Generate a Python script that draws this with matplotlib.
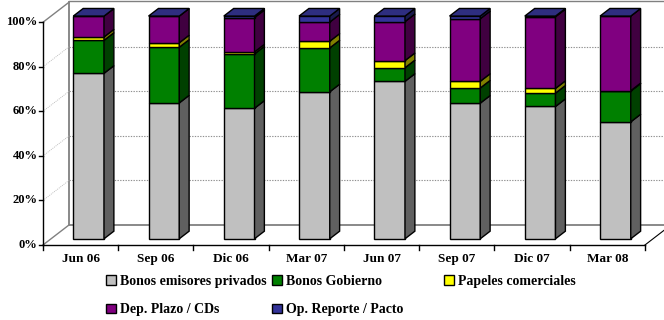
import numpy as np
import matplotlib
matplotlib.use('Agg')
import matplotlib.pyplot as plt
from matplotlib.patches import Polygon, Patch

plt.rcParams['font.family'] = ['Liberation Serif', 'DejaVu Serif']
plt.rcParams['font.weight'] = 'bold'

periods = ['Jun 06', 'Sep 06', 'Dic 06', 'Mar 07', 'Jun 07', 'Sep 07', 'Dic 07', 'Mar 08']

# portfolio share by instrument, % of total
bonos_privados = [74.3, 61.0, 58.6, 66.0, 70.7, 60.9, 59.4, 52.5]
bonos_gobierno = [14.8, 25.0, 24.4, 19.7, 6.1, 6.8, 6.0, 13.8]
papeles_comerciales = [1.5, 2.0, 0.9, 3.0, 3.2, 3.0, 2.1, 0.2]
dep_plazo = [9.4, 12.0, 15.4, 8.6, 17.5, 28.1, 32.2, 33.5]
op_reporte = [0.0, 0.0, 0.7, 2.7, 2.5, 1.2, 0.3, 0.0]

series = [
    ('Bonos emisores privados', bonos_privados, '#C0C0C0', '#606060'),
    ('Bonos Gobierno', bonos_gobierno, '#008000', '#004000'),
    ('Papeles comerciales', papeles_comerciales, '#FFFF00', '#808000'),
    ('Dep. Plazo / CDs', dep_plazo, '#800080', '#400040'),
    ('Op. Reporte / Pacto', op_reporte, '#333399', '#1A1A4D'),
]
top_color = '#2E2E80'
yticks = [0, 20, 40, 60, 80, 100]

# depth of the 3D box in data units
DX, DY = 0.3455, 8.98
f0, f1 = 0.31, 0.69
bar_w = 0.408
n = len(periods)

fig = plt.figure(figsize=(6.64, 3.2), dpi=100)
ax = fig.add_axes([0, 0, 1, 1])
ax.set_xlim(-0.571, 8.253)
ax.set_ylim(-33.68, 110.0)
ax.axis('off')

wall = '#808080'
# back wall and left wall outline
ax.plot([DX, DX, n + DX + 1], [DY + 100, DY, DY], color=wall, lw=1.3, zorder=1)
ax.plot([DX, n + DX + 1], [DY + 100.5, DY + 100.5], color=wall, lw=1.0, zorder=1)
ax.plot([0, DX], [100, 100 + DY], color=wall, lw=1.0, zorder=1)
ax.plot([0, DX], [0, DY], color=wall, lw=1.0, zorder=1)
for v in yticks[1:-1]:
    ax.plot([DX, n + DX + 1], [v + DY, v + DY], color='#909090', lw=0.8,
            ls=(0, (1.2, 1.2)), zorder=1)
    ax.plot([0, DX], [v, v + DY], color='#B8B8B8', lw=0.6,
            ls=(0, (1.2, 1.2)), zorder=1)

# front axes
ax.plot([0, 0], [0, 100], color='black', lw=1.0, zorder=2)
ax.plot([0, n], [0, 0], color='black', lw=1.0, zorder=2)
ax.plot([n, n + DX * 0.75], [0, DY * 0.75], color='black', lw=0.8, zorder=2)
for v in yticks:
    ax.plot([-0.05, 0], [v, v], color='black', lw=1.0, zorder=2)
    ax.text(-0.07, v, '{}%'.format(v), ha='right', va='center', fontsize=9)
for i in range(n + 1):
    ax.plot([i, i], [0, -2.2], color='black', lw=1.0, zorder=2)
for i, p in enumerate(periods):
    ax.text(i + 0.5, -3.6, p, ha='center', va='top', fontsize=9.5)

# stacked 3D bars
x = np.arange(n) + 0.5 + f0 * DX
dd = f1 - f0
bottom = np.zeros(n)
for name, vals, front, side in series:
    vals = np.array(vals)
    ax.bar(x, vals, width=bar_w, bottom=bottom + f0 * DY, color=front,
           edgecolor='black', linewidth=1.0, zorder=3)
    for i in range(n):
        xr = x[i] + bar_w / 2
        y0 = bottom[i] + f0 * DY
        y1 = y0 + vals[i]
        ax.add_patch(Polygon([(xr, y0), (xr + dd * DX, y0 + dd * DY),
                              (xr + dd * DX, y1 + dd * DY), (xr, y1)],
                             closed=True, facecolor=side, edgecolor='black',
                             linewidth=1.0, zorder=3))
    bottom = bottom + vals

for i in range(n):
    xl = x[i] - bar_w / 2
    xr = x[i] + bar_w / 2
    yt = bottom[i] + f0 * DY
    ax.add_patch(Polygon([(xl, yt), (xr, yt), (xr + dd * DX, yt + dd * DY),
                          (xl + dd * DX, yt + dd * DY)], closed=True,
                         facecolor=top_color, edgecolor='black',
                         linewidth=1.0, zorder=3))

# legend laid out in three columns
handles = {name: Patch(facecolor=front, edgecolor='black', linewidth=1.0)
           for name, vals, front, side in series}
columns = [
    (['Bonos emisores privados', 'Dep. Plazo / CDs'], 106),
    (['Bonos Gobierno', 'Op. Reporte / Pacto'], 272),
    (['Papeles comerciales'], 444),
]
for names, px in columns:
    leg = fig.legend([handles[k] for k in names], names, loc='upper left',
                     bbox_to_anchor=(px / 664, 1 - 275 / 320), frameon=False,
                     fontsize=10, handlelength=0.7, handleheight=0.7,
                     handletextpad=0.3, borderpad=0, borderaxespad=0,
                     labelspacing=1.1)

fig.savefig('out.png', dpi=100)
